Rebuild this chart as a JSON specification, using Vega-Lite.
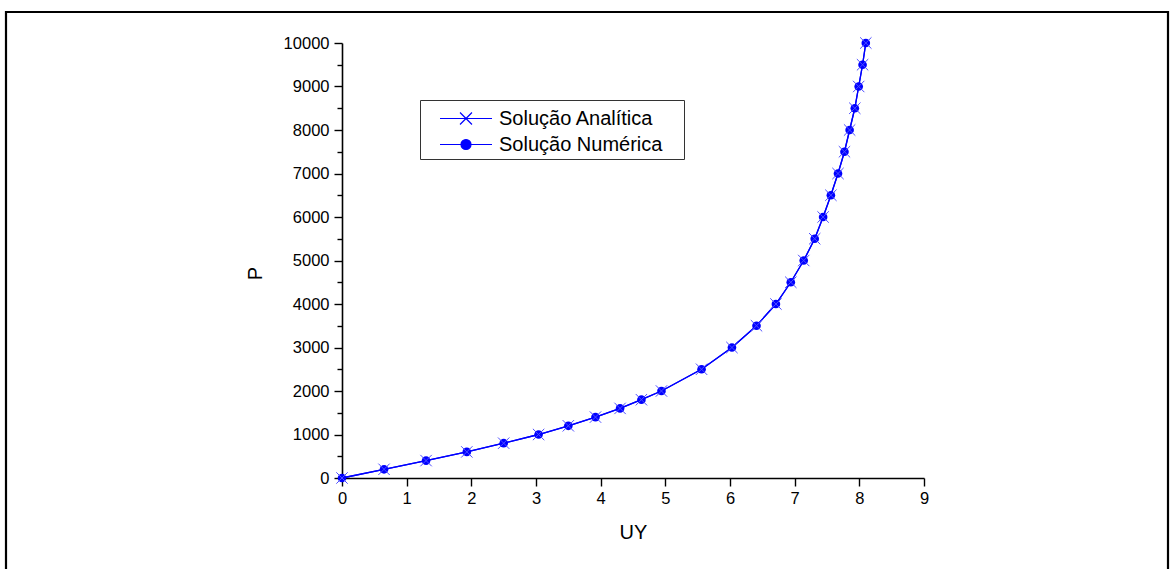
{
  "$schema": "https://vega.github.io/schema/vega-lite/v6.json",
  "autosize": {"type": "none"},
  "width": 1162,
  "height": 558,
  "padding": {"left": 6, "top": 12, "right": 3, "bottom": -1},
  "background": "white",
  "config": {
    "view": {"stroke": "#000000", "strokeWidth": 2.2, "fill": "#ffffff"},
    "font": "Liberation Sans",
    "axis": {
      "grid": false,
      "labelFont": "Liberation Sans",
      "labelFontSize": 16.5,
      "labelColor": "#000000",
      "domainColor": "#000000",
      "domainWidth": 1.6,
      "tickColor": "#000000",
      "tickWidth": 1.4,
      "titleFont": "Liberation Sans",
      "titleFontSize": 20,
      "titleFontWeight": "normal",
      "titleColor": "#000000",
      "labelOverlap": false,
      "labelFlush": false
    }
  },
  "data": {
    "values": [
      {"serie": "Solução Analítica", "UY": 0.0, "P": 0},
      {"serie": "Solução Analítica", "UY": 0.65, "P": 200},
      {"serie": "Solução Analítica", "UY": 1.3, "P": 400},
      {"serie": "Solução Analítica", "UY": 1.93, "P": 600},
      {"serie": "Solução Analítica", "UY": 2.5, "P": 800},
      {"serie": "Solução Analítica", "UY": 3.04, "P": 1000},
      {"serie": "Solução Analítica", "UY": 3.5, "P": 1200},
      {"serie": "Solução Analítica", "UY": 3.92, "P": 1400},
      {"serie": "Solução Analítica", "UY": 4.3, "P": 1600},
      {"serie": "Solução Analítica", "UY": 4.63, "P": 1800},
      {"serie": "Solução Analítica", "UY": 4.94, "P": 2000},
      {"serie": "Solução Analítica", "UY": 5.56, "P": 2500},
      {"serie": "Solução Analítica", "UY": 6.03, "P": 3000},
      {"serie": "Solução Analítica", "UY": 6.41, "P": 3500},
      {"serie": "Solução Analítica", "UY": 6.71, "P": 4000},
      {"serie": "Solução Analítica", "UY": 6.94, "P": 4500},
      {"serie": "Solução Analítica", "UY": 7.14, "P": 5000},
      {"serie": "Solução Analítica", "UY": 7.31, "P": 5500},
      {"serie": "Solução Analítica", "UY": 7.44, "P": 6000},
      {"serie": "Solução Analítica", "UY": 7.56, "P": 6500},
      {"serie": "Solução Analítica", "UY": 7.67, "P": 7000},
      {"serie": "Solução Analítica", "UY": 7.77, "P": 7500},
      {"serie": "Solução Analítica", "UY": 7.85, "P": 8000},
      {"serie": "Solução Analítica", "UY": 7.93, "P": 8500},
      {"serie": "Solução Analítica", "UY": 7.99, "P": 9000},
      {"serie": "Solução Analítica", "UY": 8.05, "P": 9500},
      {"serie": "Solução Analítica", "UY": 8.1, "P": 10000},
      {"serie": "Solução Numérica", "UY": 0.0, "P": 0},
      {"serie": "Solução Numérica", "UY": 0.65, "P": 200},
      {"serie": "Solução Numérica", "UY": 1.3, "P": 400},
      {"serie": "Solução Numérica", "UY": 1.93, "P": 600},
      {"serie": "Solução Numérica", "UY": 2.5, "P": 800},
      {"serie": "Solução Numérica", "UY": 3.04, "P": 1000},
      {"serie": "Solução Numérica", "UY": 3.5, "P": 1200},
      {"serie": "Solução Numérica", "UY": 3.92, "P": 1400},
      {"serie": "Solução Numérica", "UY": 4.3, "P": 1600},
      {"serie": "Solução Numérica", "UY": 4.63, "P": 1800},
      {"serie": "Solução Numérica", "UY": 4.94, "P": 2000},
      {"serie": "Solução Numérica", "UY": 5.56, "P": 2500},
      {"serie": "Solução Numérica", "UY": 6.03, "P": 3000},
      {"serie": "Solução Numérica", "UY": 6.41, "P": 3500},
      {"serie": "Solução Numérica", "UY": 6.71, "P": 4000},
      {"serie": "Solução Numérica", "UY": 6.94, "P": 4500},
      {"serie": "Solução Numérica", "UY": 7.14, "P": 5000},
      {"serie": "Solução Numérica", "UY": 7.31, "P": 5500},
      {"serie": "Solução Numérica", "UY": 7.44, "P": 6000},
      {"serie": "Solução Numérica", "UY": 7.56, "P": 6500},
      {"serie": "Solução Numérica", "UY": 7.67, "P": 7000},
      {"serie": "Solução Numérica", "UY": 7.77, "P": 7500},
      {"serie": "Solução Numérica", "UY": 7.85, "P": 8000},
      {"serie": "Solução Numérica", "UY": 7.93, "P": 8500},
      {"serie": "Solução Numérica", "UY": 7.99, "P": 9000},
      {"serie": "Solução Numérica", "UY": 8.05, "P": 9500},
      {"serie": "Solução Numérica", "UY": 8.1, "P": 10000}
    ]
  },
  "encoding": {
    "x": {
      "field": "UY", "type": "quantitative",
      "scale": {"domain": [0, 9], "range": [336, 918], "nice": false, "zero": false},
      "axis": {
        "title": "UY",
        "offset": -92,
        "format": "d",
        "values": [0, 0.5, 1, 1.5, 2, 2.5, 3, 3.5, 4, 4.5, 5, 5.5, 6, 6.5, 7, 7.5, 8, 8.5, 9],
        "labelExpr": "datum.value % 1 === 0 ? datum.label : ''",
        "tickSize": {"condition": {"test": "datum.value % 1 !== 0", "value": 5}, "value": 8},
        "labelPadding": 4,
        "titlePadding": 16
      }
    },
    "y": {
      "field": "P", "type": "quantitative",
      "scale": {"domain": [0, 10000], "range": [466, 31], "nice": false},
      "axis": {
        "title": "P",
        "offset": -336,
        "format": "d",
        "values": [0, 500, 1000, 1500, 2000, 2500, 3000, 3500, 4000, 4500, 5000, 5500, 6000, 6500, 7000, 7500, 8000, 8500, 9000, 9500, 10000],
        "labelExpr": "datum.value % 1000 === 0 ? datum.label : ''",
        "tickSize": {"condition": {"test": "datum.value % 1000 !== 0", "value": 5}, "value": 8},
        "labelPadding": 5,
        "titlePadding": 18,
        "titleY": 261
      }
    }
  },
  "layer": [
    {
      "mark": {"type": "line", "strokeWidth": 1.3},
      "encoding": {
        "color": {
          "field": "serie", "type": "nominal",
          "scale": {"range": ["#0000ff", "#0000ff"]},
          "legend": {
            "title": null,
            "orient": "none",
            "legendX": 414,
            "legendY": 88,
            "padding": 4.5,
            "symbolOffset": 14.5,
            "strokeColor": "#333333",
            "fillColor": "#ffffff",
            "symbolSize": 676,
            "symbolStrokeWidth": 1.2,
            "labelFont": "Liberation Sans",
            "labelFontSize": 20,
            "labelColor": "#000000",
            "labelOffset": 32,
            "labelLimit": 400,
            "labelExpr": "datum.label + '\u00a0\u00a0\u00a0\u200b'",
            "rowPadding": 2,
            "encode": {
              "symbols": {
                "update": {
                  "shape": {"signal": "datum.value === 'Solução Analítica' ? 'M-1,0H3M0.54,-0.46L1.46,0.46M0.54,0.46L1.46,-0.46' : 'M-1,0H3M1.385,0A0.385,0.385,0,1,1,0.615,0A0.385,0.385,0,1,1,1.385,0Z'"},
                  "fill": {"value": "#0000ff"},
                  "stroke": {"value": "#0000ff"}
                }
              }
            }
          }
        }
      }
    },
    {
      "transform": [{"filter": "datum.serie === 'Solução Numérica'"}],
      "mark": {"type": "point", "shape": "circle", "filled": true, "color": "#0000ff", "size": 75, "opacity": 1}
    },
    {
      "transform": [{"filter": "datum.serie === 'Solução Analítica'"}],
      "mark": {"type": "point", "shape": "M-1,-1L1,1M-1,1L1,-1", "filled": false, "stroke": "#4d4dff", "strokeWidth": 1, "size": 130, "opacity": 1}
    }
  ]
}
